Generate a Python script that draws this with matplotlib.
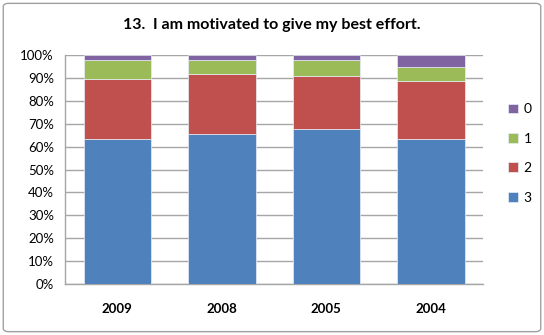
import matplotlib
matplotlib.use('Agg')
import matplotlib.pyplot as plt
import numpy as np
from matplotlib.patches import FancyBboxPatch

# Veriler (yüzde)
yillar = ['2009', '2008', '2005', '2004']
seri_3 = [63.5, 65.7, 67.6, 63.2]
seri_2 = [26.3, 26.2, 23.2, 25.7]
seri_1 = [8.1, 6.0, 7.1, 6.0]
seri_0 = [2.1, 2.1, 2.1, 5.1]

seriler = [('3', seri_3, '#4F81BD'), ('2', seri_2, '#C0504D'),
           ('1', seri_1, '#9BBB59'), ('0', seri_0, '#8064A2')]

plt.rcParams['font.family'] = ['Lato', 'DejaVu Sans']

fig = plt.figure(figsize=(5.44, 3.35), dpi=100)
ax = fig.add_axes([0.1195, 0.153, 0.7685, 0.682])

x = np.arange(len(yillar))
alt = np.zeros(len(yillar))
bars = []
for ad, deger, renk in seriler:
    b = ax.bar(x, deger, bottom=alt, width=0.646, color=renk,
               edgecolor='#e8eef8', linewidth=0.5, label=ad, zorder=3)
    bars.append(b)
    alt += np.array(deger)

ax.set_xlim(-0.5, len(yillar) - 0.5)
ax.set_ylim(0, 100)
ax.set_yticks(np.arange(0, 101, 10))
ax.set_yticklabels([f'{v}%' for v in range(0, 101, 10)], fontsize=9.5)
ax.set_xticks(x)
ax.set_xticklabels(yillar, fontsize=9.5, fontweight='bold')
ax.tick_params(axis='both', length=0, pad=8)
ax.tick_params(axis='x', pad=14)
ax.grid(True, axis='y', color='#a6a6a6', linewidth=1, zorder=0)
for s in ['top', 'right']:
    ax.spines[s].set_visible(False)
for s in ['left', 'bottom']:
    ax.spines[s].set_color('#a6a6a6')
    ax.spines[s].set_linewidth(1)

# Lejant: üstte 0, altta 3
h, l = ax.get_legend_handles_labels()
ax.legend(h[::-1], l[::-1], loc='center left', bbox_to_anchor=(1.03, 0.57),
          frameon=False, fontsize=10, handlelength=0.7, handleheight=0.7,
          labelspacing=1.25, handletextpad=0.4)

fig.text(0.5, 0.925, '13.  I am motivated to give my best effort.',
         ha='center', va='center', fontsize=11.5, fontweight='bold')

cerceve = FancyBboxPatch((0.006, 0.01), 0.988, 0.98, boxstyle='round,pad=0,rounding_size=0.01',
                         transform=fig.transFigure, facecolor='none',
                         edgecolor='#a0a0a0', linewidth=1)
fig.patches.append(cerceve)

plt.savefig('out.png', dpi=100)
plt.close()
